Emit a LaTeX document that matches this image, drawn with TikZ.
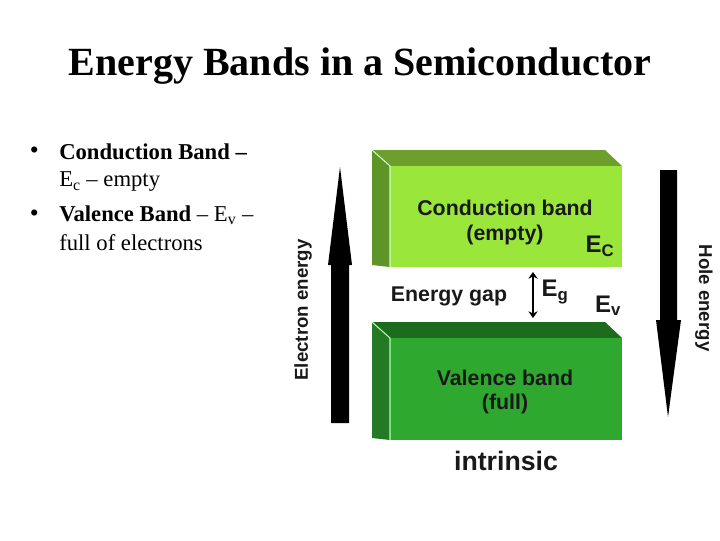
\documentclass[tikz,border=0pt]{standalone}
\usepackage{fontspec}
\usetikzlibrary{arrows.meta}
\setmainfont{Liberation Serif}
\newfontfamily\arial{Liberation Sans}
\begin{document}
\begin{tikzpicture}[x=0.75pt,y=-0.75pt,
  lab/.style={font=\arial\bfseries\fontsize{16}{18}\selectfont, text=black!90, inner sep=0pt},
  big/.style={lab, font=\arial\bfseries\fontsize{18}{20}\selectfont},
  bul/.style={font=\bfseries\fontsize{17}{20}\selectfont, anchor=west, inner sep=0pt},
  txt/.style={font=\fontsize{17}{20}\selectfont, anchor=west, inner sep=0pt}]
\definecolor{cfront}{HTML}{9BE63A}\definecolor{ctop}{HTML}{6E9E2C}\definecolor{cside}{HTML}{5F9426}
\definecolor{vfront}{HTML}{2EA82E}\definecolor{vtop}{HTML}{1D6B1D}\definecolor{vside}{HTML}{247A24}
\useasboundingbox (0,0) rectangle (720,540);
\node[font=\bfseries\fontsize{30}{34}\selectfont] (title) at (360,66) {Energy Bands in a Semiconductor};
\node[bul] (b1) at (30,152) {\textbullet};
\node[bul] (t1) at (59,152) {Conduction Band --};
\node[txt] (t1b) at (59,182) {E\textsubscript{c} -- empty};
\node[bul] (b2) at (30,215) {\textbullet};
\node[txt] (t2) at (59,215) {\textbf{Valence Band} -- E\textsubscript{v} --};
\node[txt] (t2b) at (59,243) {full of electrons};
% conduction band
\fill[ctop] (372,150) -- (605,150) -- (622,166) -- (390,166) -- cycle;
\fill[cside] (372,150) -- (390,166) -- (390,267) -- (372,265) -- cycle;
\fill[cfront] (390,166) rectangle (622,267);
\draw[white!80!green, line width=0.8] (372,150) -- (390,166) -- (390,267);
% valence band
\fill[vtop] (372,322) -- (605,322) -- (622,338) -- (390,338) -- cycle;
\fill[vside] (372,322) -- (390,338) -- (390,440) -- (372,438) -- cycle;
\fill[vfront] (390,338) rectangle (622,440);
\draw[white!70!green, line width=0.8] (372,322) -- (390,338) -- (390,440);
\node[lab] (cb) at (505,208) {Conduction band};
\node[lab] (ce) at (505,235) {(empty)};
\node[big] (ec) at (600,246) {E\textsubscript{C}};
\node[lab] (vb) at (505,378) {Valence band};
\node[lab] (vf) at (505,404) {(full)};
\node[lab] (gap) at (449,296) {Energy gap};
\node[big] (eg) at (555,292) {E\textsubscript{g}};
\node[big] (ev) at (608,306) {E\textsubscript{v}};
\coordinate (g1) at (533,272); \coordinate (g2) at (533,318);
\draw[line width=2.2, <->, >={Stealth[length=5pt,width=7pt]}] (g1) -- (g2);
\node[lab, font=\arial\bfseries\fontsize{20}{22}\selectfont] (intr) at (506,461) {intrinsic};
% big arrows
\fill[black] (331,423) -- (349,423) -- (349,265) -- (352,265) -- (340,167) -- (328,265) -- (331,265) -- cycle;
\fill[black] (660,170) -- (677,170) -- (677,320) -- (681,320) -- (668,417) -- (656,320) -- (660,320) -- cycle;
\node[lab, font=\arial\bfseries\fontsize{14}{16}\selectfont, rotate=90] (elec) at (303,310) {Electron energy};
\node[lab, font=\arial\bfseries\fontsize{14}{16}\selectfont, rotate=-90] (hole) at (704,298) {Hole energy};
\end{tikzpicture}
\end{document}
